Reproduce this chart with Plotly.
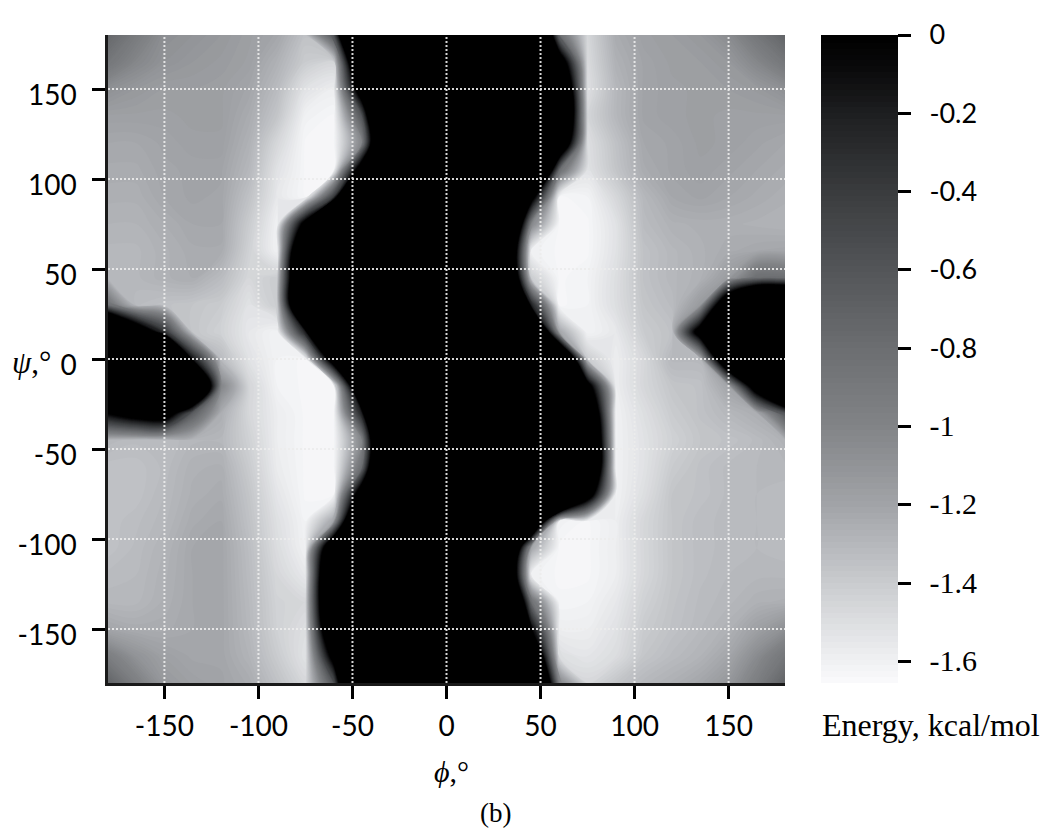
import plotly.graph_objects as go

# Torsion grid (degrees)
phi = [-180, -165, -150, -135, -120, -105, -90, -75, -60, -45, -30, -15, 0,
       15, 30, 45, 60, 75, 90, 105, 120, 135, 150, 165, 180]
psi = [180, 165, 150, 135, 120, 105, 90, 75, 60, 45, 30, 15, 0,
       -15, -30, -45, -60, -75, -90, -105, -120, -135, -150, -165, -180]

# Energy (kcal/mol), one row per psi value (top row psi = 180), columns follow phi
energy = [
    [-0.75, -0.92, -1.07, -1.10, -1.13, -1.17, -1.21, -1.35, -0.60, 2.40, 3, 3, 3, 3, 3, 2.20, -0.80, -1.46, -1.24, -1.18, -1.16, -1.13, -1.05, -0.88, -0.72],
    [-0.88, -1.02, -1.10, -1.13, -1.15, -1.18, -1.27, -1.40, -1.45, 1.20, 3, 3, 3, 3, 3, 3, 0.40, -1.48, -1.27, -1.20, -1.17, -1.16, -1.13, -1.02, -0.88],
    [-1.08, -1.13, -1.16, -1.16, -1.17, -1.21, -1.32, -1.52, -1.58, 0.40, 3, 3, 3, 3, 3, 3, 1.20, -1.50, -1.30, -1.20, -1.18, -1.17, -1.16, -1.14, -1.08],
    [-1.18, -1.18, -1.18, -1.17, -1.17, -1.24, -1.37, -1.60, -1.63, -0.60, 2.40, 3, 3, 3, 3, 3, 1.40, -1.45, -1.30, -1.20, -1.18, -1.17, -1.18, -1.18, -1.18],
    [-1.22, -1.22, -1.20, -1.18, -1.18, -1.27, -1.46, -1.63, -1.63, -1.00, 2.00, 3, 3, 3, 3, 3, 0.80, -1.50, -1.35, -1.22, -1.20, -1.17, -1.18, -1.20, -1.22],
    [-1.24, -1.24, -1.21, -1.20, -1.20, -1.30, -1.52, -1.63, -1.63, 0.40, 3, 3, 3, 3, 3, 2.20, -0.80, -1.52, -1.37, -1.24, -1.20, -1.18, -1.20, -1.22, -1.24],
    [-1.26, -1.26, -1.22, -1.20, -1.21, -1.35, -1.55, -1.63, -0.40, 2.60, 3, 3, 3, 3, 3, 0.20, -1.63, -1.61, -1.46, -1.30, -1.22, -1.20, -1.22, -1.24, -1.26],
    [-1.28, -1.28, -1.25, -1.22, -1.22, -1.40, -1.60, 0.20, 3, 3, 3, 3, 3, 3, 2.00, -1.00, -1.63, -1.63, -1.52, -1.32, -1.27, -1.26, -1.26, -1.27, -1.28],
    [-1.30, -1.30, -1.27, -1.24, -1.24, -1.43, -1.60, 1.40, 3, 3, 3, 3, 3, 3, 1.40, -1.60, -1.63, -1.63, -1.52, -1.35, -1.30, -1.27, -1.24, -1.22, -1.21],
    [-1.30, -1.30, -1.27, -1.25, -1.32, -1.46, -1.40, 1.60, 3, 3, 3, 3, 3, 3, 1.60, -1.40, -1.63, -1.61, -1.50, -1.35, -1.30, -1.27, -1.15, -0.80, -0.80],
    [-0.84, -1.32, -1.35, -1.37, -1.40, -1.52, -1.40, 1.60, 3, 3, 3, 3, 3, 3, 2.80, -0.20, -1.63, -1.61, -1.50, -1.37, -1.32, -1.14, 0.80, 2.00, 2.00],
    [2.00, 0.56, -0.34, -1.37, -1.43, -1.55, -1.61, -0.20, 2.80, 3, 3, 3, 3, 3, 3, 1.80, -1.20, -1.61, -1.55, -1.40, -1.35, 0.30, 2.76, 3, 3],
    [3, 3, 2.40, -0.14, -1.32, -1.52, -1.61, -1.63, 0.40, 3, 3, 3, 3, 3, 3, 3, 1.60, -1.40, -1.58, -1.46, -1.30, -1.30, 0.90, 2.94, 3],
    [3, 3, 3, 1.72, -1.00, -1.45, -1.61, -1.63, -1.63, 1.00, 3, 3, 3, 3, 3, 3, 3, 0.20, -1.58, -1.46, -1.37, -1.35, -1.20, 0.40, 1.92],
    [0.00, 0.32, 0.40, -0.66, -1.25, -1.46, -1.58, -1.63, -1.63, -0.20, 2.80, 3, 3, 3, 3, 3, 3, 1.00, -1.60, -1.50, -1.40, -1.35, -1.30, -1.25, -0.60],
    [-1.30, -1.32, -1.32, -1.30, -1.30, -1.43, -1.58, -1.63, -1.63, -1.00, 2.00, 3, 3, 3, 3, 3, 3, 1.40, -1.60, -1.52, -1.43, -1.37, -1.35, -1.32, -1.27],
    [-1.35, -1.35, -1.32, -1.27, -1.26, -1.40, -1.57, -1.63, -1.63, -0.80, 2.20, 3, 3, 3, 3, 3, 3, 1.40, -1.60, -1.52, -1.40, -1.35, -1.32, -1.31, -1.30],
    [-1.35, -1.35, -1.31, -1.26, -1.24, -1.37, -1.54, -1.63, -1.63, 0.40, 3, 3, 3, 3, 3, 3, 3, 0.40, -1.60, -1.50, -1.37, -1.35, -1.32, -1.31, -1.32],
    [-1.35, -1.33, -1.30, -1.24, -1.22, -1.35, -1.51, -1.61, -1.20, 1.80, 3, 3, 3, 3, 3, 1.40, -1.60, -1.63, -1.58, -1.46, -1.37, -1.33, -1.32, -1.31, -1.32],
    [-1.35, -1.32, -1.28, -1.22, -1.21, -1.33, -1.49, -1.60, 0.80, 3, 3, 3, 3, 3, 1.80, -1.20, -1.63, -1.63, -1.58, -1.46, -1.37, -1.33, -1.32, -1.31, -1.32],
    [-1.32, -1.31, -1.27, -1.22, -1.21, -1.32, -1.46, -1.55, 1.40, 3, 3, 3, 3, 3, 1.40, -1.60, -1.63, -1.63, -1.58, -1.46, -1.37, -1.33, -1.31, -1.30, -1.30],
    [-1.30, -1.30, -1.26, -1.22, -1.21, -1.31, -1.44, -1.46, 1.40, 3, 3, 3, 3, 3, 2.20, -0.80, -1.62, -1.61, -1.55, -1.43, -1.36, -1.32, -1.30, -1.27, -1.26],
    [-1.21, -1.24, -1.24, -1.22, -1.21, -1.30, -1.43, -1.50, 1.00, 3, 3, 3, 3, 3, 3, 0.00, -1.58, -1.58, -1.52, -1.40, -1.35, -1.31, -1.27, -1.18, -1.08],
    [-0.95, -1.10, -1.18, -1.21, -1.21, -1.28, -1.40, -1.52, 0.20, 3, 3, 3, 3, 3, 3, 1.00, -1.50, -1.54, -1.49, -1.37, -1.32, -1.28, -1.21, -1.05, -0.88],
    [-0.72, -0.96, -1.13, -1.18, -1.20, -1.24, -1.35, -1.46, -0.60, 2.40, 3, 3, 3, 3, 3, 2.00, -1.00, -1.46, -1.37, -1.30, -1.26, -1.21, -1.12, -0.95, -0.72],
]

axis_ticks = [-150, -100, -50, 0, 50, 100, 150]
axis_ticktext = ["-150", "-100", "-50", "0", "50", "100", "150"]

cbar_ticks = [0, -0.2, -0.4, -0.6, -0.8, -1, -1.2, -1.4, -1.6]
cbar_ticktext = ["0", "-0.2", "-0.4", "-0.6", "-0.8", "-1", "-1.2", "-1.4", "-1.6"]

E_MIN, E_MAX = -1.655, 0.0

gray_scale = [
    [0.000, "rgb(250,250,252)"],
    [0.033, "rgb(240,241,243)"],
    [0.154, "rgb(202,204,207)"],
    [0.275, "rgb(162,164,168)"],
    [0.396, "rgb(130,132,135)"],
    [0.517, "rgb(108,110,113)"],
    [0.637, "rgb(84,86,89)"],
    [0.758, "rgb(58,60,62)"],
    [0.879, "rgb(30,31,33)"],
    [0.950, "rgb(10,10,11)"],
    [1.000, "rgb(0,0,0)"],
]

SANS = "Lato, 'DejaVu Sans', sans-serif"
SERIF = "'Liberation Serif', 'DejaVu Serif', serif"

# colorbar labels: values of -1 and below set in a serif face
cbar_labels = []
for val, txt in zip(cbar_ticks, cbar_ticktext):
    if val <= -1:
        cbar_labels.append("\u2002<span style=\"font-family:Liberation Serif;font-size:30px\">"
                           + txt + "</span>")
    else:
        cbar_labels.append("\u2002" + txt)

fig = go.Figure()
fig.add_trace(go.Contour(
    x=phi,
    y=psi[::-1],
    z=energy[::-1],
    zmin=E_MIN,
    zmax=E_MAX,
    autocontour=False,
    contours=dict(start=E_MIN, end=E_MAX, size=0.015, coloring="fill", showlines=False),
    line=dict(width=0, smoothing=1.0),
    colorscale=gray_scale,
    colorbar=dict(
        x=1.0532, xanchor="left", xpad=0,
        y=0.5, yanchor="middle", ypad=0,
        len=1, lenmode="fraction",
        thickness=77, thicknessmode="pixels",
        outlinewidth=0,
        tickmode="array",
        tickvals=cbar_ticks,
        ticktext=cbar_labels,
        ticks="outside", ticklen=13, tickwidth=3, tickcolor="black",
        tickfont=dict(family=SANS, size=27, color="black"),
    ),
    hoverinfo="skip",
))

# dotted reference grid drawn over the map
for v in axis_ticks:
    fig.add_shape(type="line", xref="x", yref="y", x0=v, x1=v, y0=-180, y1=180,
                  line=dict(color="rgba(236,236,236,0.9)", width=2, dash="2px,2px"),
                  layer="above")
    fig.add_shape(type="line", xref="x", yref="y", x0=-180, x1=180, y0=v, y1=v,
                  line=dict(color="rgba(236,236,236,0.9)", width=2, dash="2px,2px"),
                  layer="above")

axis_common = dict(
    range=[-180, 180],
    tickmode="array",
    tickvals=axis_ticks,
    ticktext=axis_ticktext,
    ticks="outside", ticklen=13, tickwidth=3, tickcolor="black",
    showline=True, linecolor="#1a1a1a", linewidth=2.5,
    showgrid=False, zeroline=False,
    tickfont=dict(family=SANS, size=28, color="black"),
)

fig.update_layout(
    width=1041, height=831,
    margin=dict(l=108, r=256, t=35, b=148),
    paper_bgcolor="white", plot_bgcolor="white",
    xaxis=dict(**axis_common, ticklabelstandoff=4),
    yaxis=dict(**axis_common, ticklabelstandoff=10, ticklabelshift=6),
    showlegend=False,
    annotations=[
        dict(text="<i>ϕ</i>,°", xref="paper", yref="paper", x=0.508, y=-0.137,
             xanchor="center", yanchor="middle", showarrow=False,
             font=dict(family=SERIF, size=30, color="black")),
        dict(text="<i>ψ</i>,°", xref="paper", yref="paper", x=-0.1137, y=0.494,
             xanchor="center", yanchor="middle", showarrow=False,
             font=dict(family=SERIF, size=31, color="black")),
        dict(text="(b)", xref="paper", yref="paper", x=0.573, y=-0.2,
             xanchor="center", yanchor="middle", showarrow=False,
             font=dict(family=SERIF, size=27, color="black")),
        dict(text="Energy, kcal/mol", xref="paper", yref="paper", x=1.0517, y=-0.065,
             xanchor="left", yanchor="middle", showarrow=False,
             font=dict(family=SERIF, size=32, color="black")),
    ],
)

fig.write_html("out.html")
